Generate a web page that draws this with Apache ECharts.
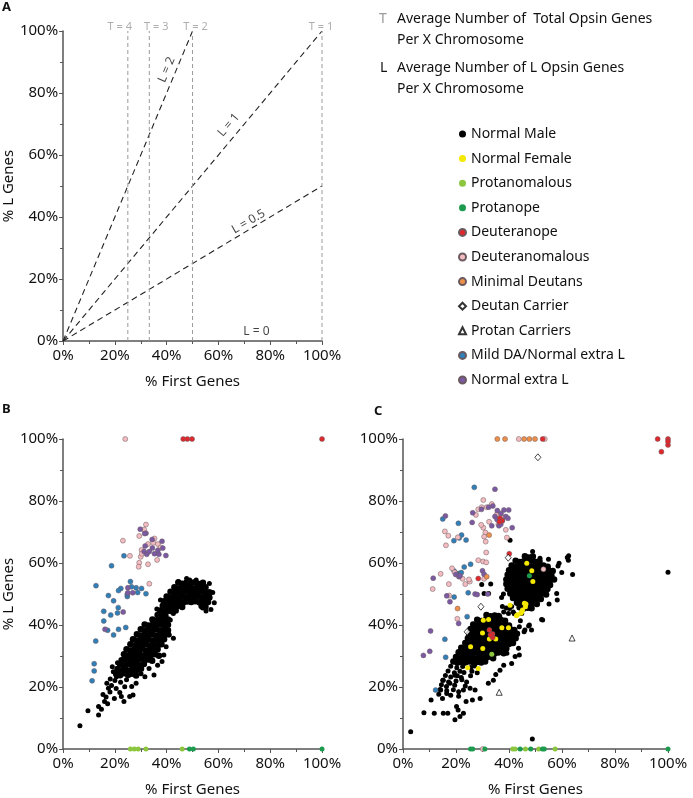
<!DOCTYPE html>
<html><head><meta charset="utf-8">
<script src="https://cdn.jsdelivr.net/npm/echarts@6/dist/echarts.min.js"></script>
<style>html,body{margin:0;padding:0;background:#fff}#c{width:693px;height:798px}</style>
</head><body><div id="c"></div>
<script>
// ---------- Tick labels / categories ----------
const tickValues = [0, 20, 40, 60, 80, 100];
const legendNames = ['Normal Male','Normal Female','Protanomalous','Protanope','Deuteranope','Deuteranomalous','Minimal Deutans','Deutan Carrier','Protan Carriers','Mild DA/Normal extra L','Normal extra L'];

// ---------- Panel A reference lines ----------
const lineL2 = [[0,0],[50,100]];
const lineL1 = [[0,0],[100,100]];
const lineL05 = [[0,0],[100,50]];
const tLinesX = [25, 33.3, 50, 100];
const tLabels = ['T = 4','T = 3','T = 2','T = 1'];
const lLabels = ['L = 2','L = 1','L = 0.5','L = 0'];
const lLabelPos = [[40,87.5],[64,69.7],[71.6,38.5],[74.7,3.2]];

// ---------- Panel B ----------
const bNormalMaleSparse = [
[6.5,7.5],[9.6,12.3],[13.7,11],[13.7,13.7],[14.8,12.8],[16,15.3],[16.6,16.8],[15.4,17.6],[17.2,14.6],[18.1,18.4],[17.5,19.6],[18.7,20.5],[16.9,21.2],[18.2,22.6],[20,22.1],[19.4,24.9],[21.3,25.4],[20.6,23.3],[22.5,16.9],[23.5,15.3],[25.7,16.9],[27,17.4],[21.9,18.2],[23.8,20.1],[20.5,19.5],[19.8,16.3],[22.2,21.5],[24.5,22.3],[31.6,23.3],[35.1,23.9],[33.2,26],[38.2,28.2],[38.9,30.3],[42.6,35.7],[28.2,21.2],[30.1,24.3],[26.5,20.2],[19,26.5],[21,27.8],[36.5,27],[39.8,33],[41,36.8],
[58.4,47.2],[57.1,45],[55.2,44.5],[53.9,45.5],[56.5,53.4],[44.5,54],[38.9,41.6],[41.4,41.6],[38.9,43.7],[42.6,43.7],[37.6,48.1],[57.8,50.5],[36.2,45.2],[47.7,55],[48.9,54.5],[51.4,54.5]
];
const bNormalMaleCore = [
[20.5,24.2],[22,23.8],[23.6,24.4],[25.1,23.9],[26.6,24.3],[28.2,23.7],
[21,25.8],[22.6,25.4],[24,25.9],[25.5,25.3],[27.1,25.7],[28.5,25.5],[30.1,25.9],
[22,27.4],[23.5,27],[25.1,27.5],[26.5,27.1],[28,27.3],[29.6,27],[31.2,27.4],
[22.6,28.6],[24,29],[25.5,28.7],[27.1,28.9],[28.5,28.6],[30,29.1],[31.6,28.7],[33,28.9],[34.4,28.5],
[23.5,30.6],[25,30.2],[26.6,30.5],[28,30.3],[29.5,30.7],[31.1,30.2],[32.5,30.5],[34,30.3],[35.5,30.6],[37,30.1],
[24.5,32.2],[26,31.8],[27.5,32.1],[29.1,31.9],[30.5,32.3],[32,31.8],[33.6,32.1],[35,31.9],[36.5,32.2],
[26,33.8],[27.6,33.4],[29,33.7],[30.5,33.5],[32.1,33.8],[33.5,33.4],[35,33.7],[36.6,33.5],[38,33.8],
[27,35.4],[28.5,35],[30.1,35.3],[31.5,35.1],[33,35.4],[34.6,35],[36,35.3],[37.5,35.1],[39,35.4],
[28.5,37],[30,36.6],[31.6,36.9],[33,36.7],[34.5,37],[36.1,36.6],[37.5,36.9],[39,36.7],[40.5,37],
[30,38.6],[31.5,38.2],[33.1,38.5],[34.5,38.3],[36,38.6],[37.6,38.2],[39,38.5],[40.5,38.3],
[31.5,40.2],[33,39.8],[34.6,40.1],[36,39.9],[37.5,40.2],[39.1,39.8],[40.5,40.1],
[34.5,41.8],[36,41.4],[37.6,41.7],[39,41.5],[40.5,41.8],
[36.5,43.2],[38,42.8],[39.5,43.1],
[37.5,44.7],[39,44.3],[40.6,44.6],[42,44.4],[43.5,44.7],
[38.5,46.2],[40,45.8],[41.6,46.1],[43,45.9],[44.5,46.2],[46,45.8],[53.5,46.1],[55,45.9],
[39,47.7],[40.5,47.3],[42.1,47.6],[43.5,47.4],[45,47.7],[46.6,47.3],[48,47.6],[49.5,47.4],[51,47.7],[52.6,47.3],[54,47.6],[56,47.4],
[40,49.2],[41.5,48.8],[43.1,49.1],[44.5,48.9],[46,49.2],[47.6,48.8],[49,49.1],[50.5,48.9],[52,49.2],[53.6,48.8],[55,49.1],[56.5,48.9],
[41.5,50.7],[43,50.3],[44.6,50.6],[46,50.4],[47.5,50.7],[49.1,50.3],[50.5,50.6],[52,50.4],[53.5,50.7],[55.1,50.3],[56.5,50.6],
[43,52.2],[44.5,51.8],[46.1,52.1],[47.5,51.9],[49,52.2],[50.6,51.8],[52,52.1],[53.5,51.9],[55,52.2],
[44.5,53.7],[46,53.3],[47.6,53.6],[49,53.4],[50.5,53.7],[52.1,53.3],[54,53.6]
];
const bDeuteranomalous = [[24,100],[23.1,67.2],[25.8,62.3],[29.4,68.7],[32,72.4],[31.3,70.8],[32.8,66.1],[35.3,67.9],[36.6,66.1],[36.3,61],[32.8,59.6],[29.4,60.1],[29.2,58.8],[33.3,53.3],[30.3,64.2],[37.6,65],[30,62],[30.4,63],[34.8,66.5]];
const bNormalExtraL = [[29.8,70.9],[32,69.6],[31.7,65.5],[31.3,63.7],[34.5,64.8],[35.3,63],[36.6,64.1],[38.2,67],[38.5,64.8],[39.7,62.4],[32.3,62.8],[33.3,63.7],[25,52],[25,50.4],[26.9,50.4],[23.2,44.2],[16.2,38.6],[37,62.8],[34.4,67.6],[31.5,69.5]];
const bMildDA = [[23.5,62.3],[18.7,59.1],[12.7,52.7],[17.5,49.5],[19.5,47.8],[22.3,51.8],[21.4,51.1],[26,54],[26.4,52.3],[24.8,49.2],[24.8,49.9],[28.2,52],[28.8,50.5],[30.3,51.8],[32,50.1],[15.7,44.4],[21.3,45.6],[18.4,43.2],[21,43.9],[24.2,39.2],[21.4,38.6],[19.5,36.8],[15.7,41.3],[17.2,38.3],[12.6,34.8],[12,27.5],[12,25.2],[11.2,22]];
const bDeuteranope = [[46.4,100],[48,100],[49.8,100],[100,100]];
const bProtanomalous = [[26,0],[27.5,0],[29,0],[32,0],[46,0]];
const bProtanope = [[48.8,0],[50.3,0],[100,0]];

// ---------- Panel C ----------
const cNormalMaleSparse = [
[2.9,5.6],[48.8,3.2],[100,57],[7.9,11.7],[11.8,11.5],[10.6,15.8],[15.2,11.5],[16.9,11.5],[19.6,9.4],[21.5,10.5],[20.8,12.6],[20.2,13.7],[22.8,11.5],[14.9,16.3],[16.5,17.9],[14.2,19],[15.2,22.2],[17.7,21.2],[19.6,23.8],[22.8,19],[25.3,19.6],[27.2,19],[29.1,16.3],[26.2,15.8],[23.8,15.3],[32.2,21.2],[34.1,22.2],[36.6,25.4],[40.4,67.3],[48.9,63.7],[51.7,61.5],[54.9,61.2],[58.9,59.9],[62,61.8],[62.4,60.9],[64,56.3],[59.9,56.9],[58,50.2],[58.2,48.1],[55.1,46.8],[52.7,41.6],[47.7,40],[46,38.4],[43.9,39.4],[44.8,43.7],[41.6,44.2],[39.8,43.7],[37.2,48.9],[37.9,50],[33.1,53.2],[30.6,50.2],[32.3,50.2],[43.9,30.3],[41,27.6],[42.3,29.8],[39.2,30.9],[43.6,32.5],[52.3,41.8],[47.4,39.7],[48.5,38.4],[45.7,37.8],[44.3,41.4],[42,43.6],[40.2,45.3],[62.5,62.3],[58.5,59],[38,27],[35,24],[29.7,53.1],
[14,19.2],[16.5,18.8],[19,19.1],[21,18.5],[13.5,17.7],[18,17.3],[21,17],[38,44.2],[36.5,42.8],[37.5,46],[39,45.5],[41,46],
[18,26.7],[20.3,26.2],[22.5,26.6],[25.6,26.3],[27,26.8],
[17,25.2],[19.4,24.6],[21.5,25.1],[23,24.7],[26,25.1],[28,24.6],
[16,23.7],[18,23.2],[20.5,23.6],[22,23.1],[25.5,23.6],
[15,22.2],[17.2,21.6],[20,21.9],[22.2,22.3],[24,21.6],
[14.5,20.7],[16.4,20.2],[19.5,20.6],[23.5,20.3]
];
const cNormalMaleCore = [
[46,62.2],[47.5,61.8],[49,62.1],
[42.5,60.7],[44,60.3],[45.6,60.6],[47,60.4],[48.5,60.7],[50.1,60.3],[51.5,60.6],
[41,59.2],[42.5,58.8],[44.1,59.1],[45.5,58.9],[47,59.2],[48.6,58.8],[50,59.1],[51.5,58.9],[53,59.2],[54.6,58.8],
[40,57.7],[41.5,57.3],[43.1,57.6],[44.5,57.4],[46,57.7],[47.6,57.3],[49,57.6],[50.5,57.4],[52,57.7],[53.6,57.3],[55,57.6],[56.5,57.4],
[39.5,56.2],[41,55.8],[42.6,56.1],[44,55.9],[45.5,56.2],[47.1,55.8],[48.5,56.1],[50,55.9],[51.5,56.2],[53.1,55.8],[54.5,56.1],[56,55.9],
[39,54.7],[40.5,54.3],[42.1,54.6],[43.5,54.4],[45,54.7],[46.6,54.3],[48,54.6],[49.5,54.4],[51,54.7],[52.6,54.3],[54,54.6],[55.5,54.4],[57,54.7],
[39,53.2],[40.5,52.8],[42.1,53.1],[43.5,52.9],[45,53.2],[46.6,52.8],[48,53.1],[49.5,52.9],[51,53.2],[52.6,52.8],[54,53.1],[55.5,52.9],
[39.5,51.7],[41,51.3],[42.6,51.6],[44,51.4],[45.5,51.7],[47.1,51.3],[48.5,51.6],[50,51.4],[51.5,51.7],[53.1,51.3],[54.5,51.6],
[40.5,50.2],[42,49.8],[43.6,50.1],[45,49.9],[46.5,50.2],[48.1,49.8],[49.5,50.1],[51,49.9],[52.5,50.2],[54,49.8],
[41.5,48.7],[43,48.3],[44.6,48.6],[46,48.4],[47.5,48.7],[49.1,48.3],[50.5,48.6],[52,48.4],
[43,47.2],[44.5,46.8],[46.1,47.1],[47.5,46.9],[49,47.2],[50.5,46.8],
[44,45.7],[45.5,45.3],[47.1,45.6],[48.5,45.4],
[31.5,43.2],[33,42.8],[34.6,43.1],[36,42.9],
[28,41.7],[29.5,41.3],[31.1,41.6],[32.5,41.4],[34,41.7],[35.6,41.3],[37,41.6],[38.5,41.4],
[26.5,40.2],[28,39.8],[29.6,40.1],[31,39.9],[32.5,40.2],[34.1,39.8],[35.5,40.1],[37,39.9],[38.5,40.2],[40,39.8],
[25.5,38.7],[27,38.3],[28.6,38.6],[30,38.4],[31.5,38.7],[33.1,38.3],[34.5,38.6],[36,38.4],[37.5,38.7],[39.1,38.3],[40.5,38.6],[42,38.4],
[25,37.2],[26.5,36.8],[28.1,37.1],[29.5,36.9],[31,37.2],[32.6,36.8],[34,37.1],[35.5,36.9],[37,37.2],[38.6,36.8],[40,37.1],[41.5,36.9],[43,37.2],
[24.5,35.7],[26,35.3],[27.6,35.6],[29,35.4],[30.5,35.7],[32.1,35.3],[33.5,35.6],[35,35.4],[36.5,35.7],[38.1,35.3],[39.5,35.6],[41,35.4],[42.5,35.7],
[23.5,34.2],[25,33.8],[26.6,34.1],[28,33.9],[29.5,34.2],[31.1,33.8],[32.5,34.1],[34,33.9],[35.5,34.2],[37.1,33.8],[38.5,34.1],[40,33.9],[41.5,34.2],
[22,32.7],[23.5,32.3],[25.1,32.6],[26.5,32.4],[28,32.7],[29.6,32.3],[31,32.6],[32.5,32.4],[34,32.7],[35.6,32.3],[37,32.6],[39,32.4],
[21,31.2],[22.5,30.8],[24.1,31.1],[25.5,30.9],[27,31.2],[28.6,30.8],[30,31.1],[31.5,30.9],[33,31.2],[34.6,30.8],[36,31.1],[38,30.9],
[20,29.7],[21.5,29.3],[23.1,29.6],[24.5,29.4],[26,29.7],[27.6,29.3],[29,29.6],[30.5,29.4],[32,29.7],[34,29.3],
[19,28.2],[20.5,27.8],[22.1,28.1],[23.5,27.9],[25,28.2],[26.6,27.8],[28,28.1],[29.5,27.9],[31,28.2]
];
const cNormalFemale = [[46.7,59.9],[48.6,57.5],[49,54],[40.4,46.4],[45.8,47],[45.1,44.8],[44.8,44.3],[46.2,45.9],[43.2,43.3],[42.8,43],[30.3,41.5],[32.3,41.8],[30,37.4],[32.6,35.5],[35,35.5],[37.3,39.1],[39.8,39.1],[30.1,32.4],[25.5,33],[24.4,26.2],[28.4,26],[44.5,43.8],[46.4,46.8]];
const cProtanomalous = [[33.5,30.6],[41.4,0],[42.3,0],[46.2,0],[51.2,0],[57.4,0]];
const cProtanope = [[47.7,55.9],[25.5,0],[26.3,0],[30.9,0],[44.2,0],[48.2,0],[52.6,0],[53.3,0],[100,0]];
const cDeuteranope = [[36.6,74.4],[37.4,73.6],[36.4,73.3],[40.1,63],[28.4,55],[32.6,38.4],[33.8,37.1],[33.8,36],[33,36.8],[52.7,100],[96.1,100],[100,100],[100,98.1],[97.5,95.9],[100,99.2]];
const cDeuteranomalous = [[15.8,70.2],[17.1,68.8],[16.2,65.7],[18.5,58.3],[20.7,68.3],[22.5,54.9],[23.5,53.2],[25.2,54],[17.3,53.2],[11.2,51.6],[20.5,42],[30.3,80.3],[31.6,78],[29.7,78],[28.4,77.3],[32.5,73.3],[30.3,71.4],[29.5,72.3],[31.1,69.8],[30.6,68.5],[31.2,66.9],[31.4,63.4],[30.2,60.5],[31.4,60.2],[28.4,60.9],[30.6,54.9],[35.4,75.7],[38.8,70.7],[39.2,68.2],[37.7,74.7],[14.2,56.5],[17.4,49.5],[53,58],[24.9,54.7],[19.5,57],[27.5,75.5],[33.5,79],[36,72.5],[30.1,0],[43.7,100],[53.5,100]];
const cMinimalDeutans = [[32.5,69],[31.6,55.6],[20.6,45.3],[35.6,100],[38.5,100],[45.7,100],[47.7,100],[49.8,100]];
const cDeutanCarrier = [[50.9,94.1],[39.7,61.7],[29.4,45.9],[24.2,37.8]];
const cProtanCarriers = [[63.8,35.8],[36.3,18.3]];
const cMildDA = [[15,74.2],[26.9,84.4],[20.9,72.8],[19.2,67.2],[21.2,68.1],[22.1,69],[23.8,67.4],[19.3,57.4],[21.1,56.6],[23.1,58.7],[25.5,59.6],[24.6,50.4],[19.3,49],[24.2,42.7],[15.8,35.4],[16.1,29.6],[12.3,19],[20.3,56.6],[22,56.9]];
const cNormalExtraL = [[16,75.2],[26.3,76.2],[26.1,73.1],[29.6,77.3],[34.7,83.8],[33.9,78.4],[35.6,76.9],[34.7,75],[33.5,72],[38.1,77.1],[39.9,77.1],[38.8,75],[37.5,73.7],[41.2,71.4],[36.2,72],[36.9,72.5],[39.6,74.4],[11.4,55.1],[19.9,56.3],[21.1,55.6],[21.5,55.9],[16.5,49.4],[17.7,47.5],[21,40.5],[10.4,38.1],[10.1,31.5],[7.7,30.2],[27.2,50],[28,49.8],[32,50],[30,57.5],[30.6,56.4],[32.3,78],[35.5,74],[37,76]];

// ---------- styles ----------
const FONT = 'Noto Sans';
const colors = {
  'Normal Male':'#000000','Normal Female':'#f5e800','Protanomalous':'#8cc63f','Protanope':'#1c9a4e',
  'Deuteranope':'#e0282c','Deuteranomalous':'#f3bcc0','Minimal Deutans':'#ef9048',
  'Mild DA/Normal extra L':'#2f7fb8','Normal extra L':'#7b5aa3'
};
const bordered = {'Deuteranomalous':1,'Normal extra L':1,'Mild DA/Normal extra L':1,'Minimal Deutans':1,'Deuteranope':1};

function sc(name, data, gi, size){
  const s = {type:'scatter', name, xAxisIndex:gi, yAxisIndex:gi, data, symbolSize:size || 5, clip:false,
    itemStyle:{color:colors[name], opacity:1}, emphasis:{disabled:true}};
  if (bordered[name]) { s.itemStyle.borderColor='#6a5a60'; s.itemStyle.borderWidth=0.5; }
  if (name==='Deutan Carrier'){ s.symbol='diamond'; s.symbolSize=[6,7]; s.itemStyle={color:'#fff',borderColor:'#000',borderWidth:0.9}; }
  if (name==='Protan Carriers'){ s.symbol='triangle'; s.symbolSize=[6,6]; s.itemStyle={color:'#fff',borderColor:'#000',borderWidth:0.9}; }
  return s;
}

const grids = [
  {left:57, top:31, width:265, height:310},
  {left:57, top:439, width:265, height:310},
  {left:403, top:439, width:265, height:310}
];
function xAx(gi){
  return {type:'value', gridIndex:gi, min:0, max:100, interval:20,
    name:'% First Genes', nameLocation:'middle', nameGap:33,
    nameTextStyle:{fontFamily:FONT, fontSize:15, color:'#111'},
    axisLine:{lineStyle:{color:'#555', width:1.5}},
    axisTick:{show:true, length:4, lineStyle:{color:'#555'}},
    minorTick:{show:true, splitNumber:2, length:3, lineStyle:{color:'#555'}},
    splitLine:{show:false},
    axisLabel:{formatter:'{value}%', fontFamily:FONT, fontSize:15, color:'#111', margin:7}};
}
function yAx(gi, named){
  return {type:'value', gridIndex:gi, min:0, max:100, interval:20,
    name: named ? '% L Genes' : '', nameLocation:'middle', nameGap:36,
    nameTextStyle:{fontFamily:FONT, fontSize:15, color:'#111'},
    axisLine:{show:true, lineStyle:{color:'#555', width:1.5}},
    axisTick:{show:true, length:4, lineStyle:{color:'#555'}},
    minorTick:{show:true, splitNumber:2, length:3, lineStyle:{color:'#555'}},
    splitLine:{show:false},
    axisLabel:{formatter:'{value}%', fontFamily:FONT, fontSize:15, color:'#111', margin:5}};
}

const series = [];
function dl(data, color, dash, w){
  return {type:'line', xAxisIndex:0, yAxisIndex:0, data, showSymbol:false, symbol:'none', silent:true,
    lineStyle:{color, type:dash, width:w}};
}
series.push(dl(lineL2,'#222',[6,4],1.1));
series.push(dl(lineL1,'#222',[6,4],1.1));
series.push(dl(lineL05,'#222',[6,4],1.1));
tLinesX.forEach((x)=>{ series.push(dl([[x,0],[x,100]],'#9a9a9a',[4,3],1)); });
const tOffsets = [[-8,0],[7,0],[3,0],[-1,0]];
series.push({type:'scatter', xAxisIndex:0, yAxisIndex:0, symbolSize:0, silent:true,
  data: tLinesX.map((x,i)=>({value:[x,100], name:tLabels[i], label:{offset:tOffsets[i]}})),
  label:{show:true, position:'top', distance:-1, formatter:'{b}', fontFamily:FONT, fontSize:11, color:'#9a9a9a'}});
const lRot = [67, 49.5, 30, 0];
series.push({type:'scatter', xAxisIndex:0, yAxisIndex:0, symbolSize:0, silent:true,
  data: lLabels.map((t,i)=>({value:lLabelPos[i], name:t, label:{rotate:lRot[i]}})),
  label:{show:true, position:'inside', formatter:'{b}', fontFamily:FONT, fontSize:12, color:'#111'}});

// Panel B
series.push(sc('Normal Male', bNormalMaleCore, 1, 6.5));
series.push(sc('Normal Male', bNormalMaleSparse, 1, 5));
series.push(sc('Mild DA/Normal extra L', bMildDA, 1));
series.push(sc('Deuteranomalous', bDeuteranomalous, 1));
series.push(sc('Normal extra L', bNormalExtraL, 1));
series.push(sc('Deuteranope', bDeuteranope, 1));
series.push(sc('Protanomalous', bProtanomalous, 1));
series.push(sc('Protanope', bProtanope, 1));

// Panel C
series.push(sc('Normal Male', cNormalMaleCore, 2, 6.5));
series.push(sc('Normal Male', cNormalMaleSparse, 2, 5));
series.push(sc('Mild DA/Normal extra L', cMildDA, 2));
series.push(sc('Deuteranomalous', cDeuteranomalous, 2));
series.push(sc('Normal extra L', cNormalExtraL, 2));
series.push(sc('Minimal Deutans', cMinimalDeutans, 2));
series.push(sc('Normal Female', cNormalFemale, 2));
series.push(sc('Deuteranope', cDeuteranope, 2));
series.push(sc('Protanomalous', cProtanomalous, 2));
series.push(sc('Protanope', cProtanope, 2));
series.push(sc('Deutan Carrier', cDeutanCarrier, 2));
series.push(sc('Protan Carriers', cProtanCarriers, 2));

const chart = echarts.init(document.getElementById('c'), null, {renderer:'canvas'});
chart.setOption({
  animation:false,
  backgroundColor:'#fff',
  grid: grids,
  xAxis:[xAx(0), xAx(1), xAx(2)],
  yAxis:[yAx(0,true), yAx(1,true), yAx(2,false)],
  legend:{
    data: legendNames.map(n=>({name:n, icon: n==='Deutan Carrier' ? 'diamond' : n==='Protan Carriers' ? 'triangle' : 'circle'})),
    orient:'vertical', left:453, top:121, itemWidth:7, itemHeight:7, itemGap:8.6,
    selectedMode:false,
    textStyle:{fontFamily:FONT, fontSize:14, color:'#111', lineHeight:16}
  },
  graphic:[
    {type:'text', left:2, top:1, style:{text:'A', font:'bold 13px "Noto Sans"', fill:'#111'}},
    {type:'text', left:2, top:403, style:{text:'B', font:'bold 13px "Noto Sans"', fill:'#111'}},
    {type:'text', left:374, top:405, style:{text:'C', font:'bold 13px "Noto Sans"', fill:'#111'}},
    {type:'text', left:379, top:12, style:{text:'T', font:'14px "Noto Sans"', fill:'#9a9a9a'}},
    {type:'text', left:397, top:12, style:{text:'Average Number of  Total Opsin Genes', font:'14px "Noto Sans"', fill:'#111'}},
    {type:'text', left:397, top:33, style:{text:'Per X Chromosome', font:'14px "Noto Sans"', fill:'#111'}},
    {type:'text', left:380, top:61, style:{text:'L', font:'14px "Noto Sans"', fill:'#111'}},
    {type:'text', left:397, top:61, style:{text:'Average Number of L Opsin Genes', font:'14px "Noto Sans"', fill:'#111'}},
    {type:'text', left:397, top:82, style:{text:'Per X Chromosome', font:'14px "Noto Sans"', fill:'#111'}}
  ],
  series
});
</script>
</body></html>
